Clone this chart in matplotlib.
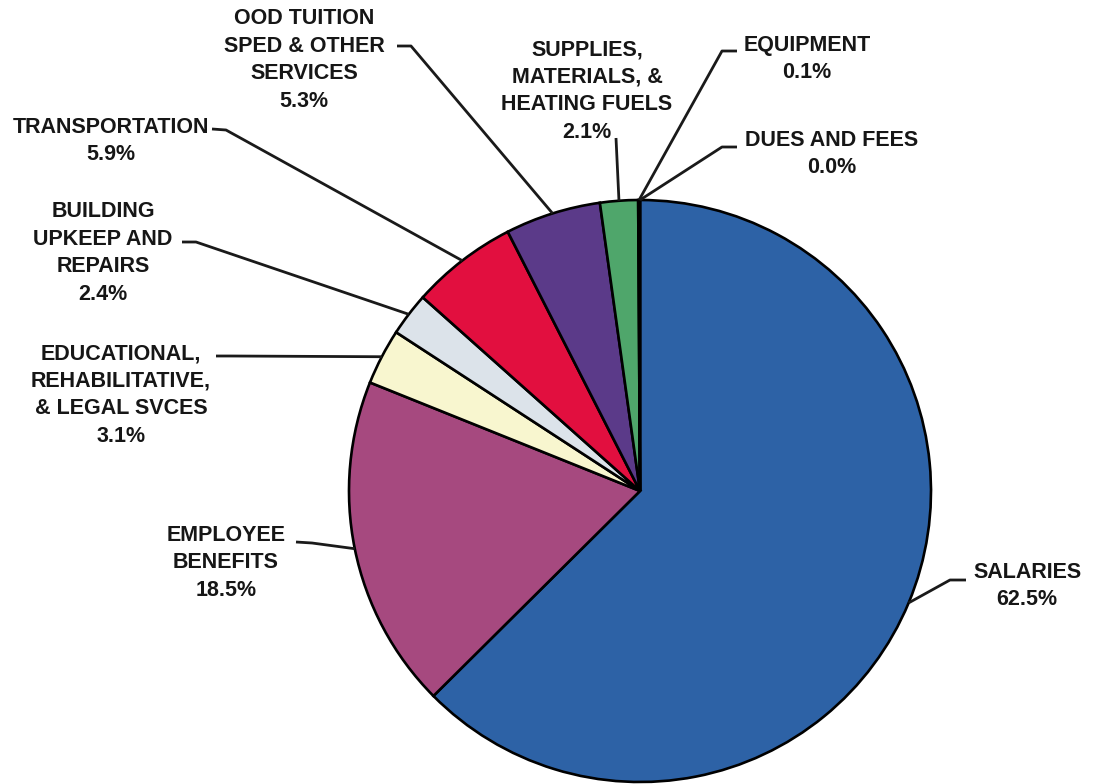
import matplotlib
matplotlib.use('Agg')
import matplotlib.pyplot as plt
import numpy as np

# expense categories, clockwise from 12 o'clock
categories = ['SALARIES', 'EMPLOYEE\nBENEFITS', 'EDUCATIONAL,\nREHABILITATIVE,\n& LEGAL SVCES',
              'BUILDING\nUPKEEP AND\nREPAIRS', 'TRANSPORTATION', 'OOD TUITION\nSPED & OTHER\nSERVICES',
              'SUPPLIES,\nMATERIALS, &\nHEATING FUELS', 'EQUIPMENT', 'DUES AND FEES']
shares = [62.5, 18.5, 3.1, 2.4, 5.9, 5.3, 2.1, 0.1, 0.0]
colors = ['#2d62a6', '#a6497f', '#f8f6cf', '#dce3ea', '#e20f3f', '#5b3a89', '#4fa66b', '#9e9e9e', '#7a7a7a']

W, H = 1097, 784

def px(x, y):
    # picture pixel coords -> axes coords (y up)
    return x, H - y

# label layout: text block centre, and where its leader starts (picture pixels)
text_pos = [(1027, 586), (226, 563), (121, 395), (103, 253), (111, 141),
            (304, 60), (587, 91), (807, 59), (832, 154)]
leader_start = [[(966, 580), (950, 580)],
                [(296, 542), (312, 543)],
                [(216, 356), (230, 356)],
                [(182, 242), (196, 242)],
                [(212, 129), (226, 130)],
                [(397, 46), (411, 46)],
                [(616, 138)],
                [(737, 51), (722, 51)],
                [(737, 147), (722, 147)]]

plt.rcParams['font.family'] = ['Liberation Sans', 'DejaVu Sans']

fig = plt.figure(figsize=(W / 100, H / 100), dpi=100)
ax = fig.add_axes([0, 0, 1, 1])

cx, cy = px(640, 491)
r = 291
wedges, _ = ax.pie(shares, colors=colors, startangle=90, counterclock=False,
                   center=(cx, cy), radius=r,
                   wedgeprops=dict(edgecolor='black', linewidth=1.9))

for w, name, val, (tx, ty), pts in zip(wedges, categories, shares, text_pos, leader_start):
    mid = np.deg2rad((w.theta1 + w.theta2) / 2)
    ex, ey = cx + r * np.cos(mid), cy + r * np.sin(mid)
    xs = [px(*p)[0] for p in pts] + [ex]
    ys = [px(*p)[1] for p in pts] + [ey]
    ax.plot(xs, ys, color='#1a1a1a', lw=2.0, solid_capstyle='butt', zorder=1)
    x, y = px(tx, ty)
    ax.text(x, y, f'{name}\n{val:.1f}%', ha='center', va='center', multialignment='center',
            fontsize=15.5, fontweight='bold', color='#161616', linespacing=1.4)

ax.set_xlim(0, W)
ax.set_ylim(0, H)
ax.set_aspect('equal')
ax.axis('off')

fig.savefig('out.png', dpi=100, facecolor='white')
